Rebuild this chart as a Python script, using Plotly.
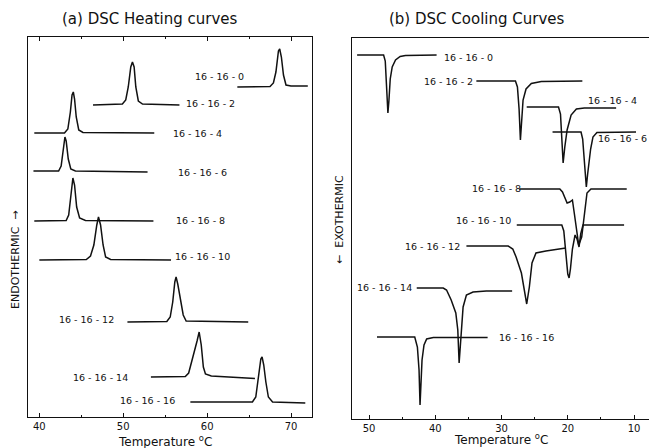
import plotly.graph_objects as go

# ---------------- (a) DSC heating curves: temperature (°C) vs signal (arb. units)
heat_labels = ["16 - 16 - 0", "16 - 16 - 2", "16 - 16 - 4", "16 - 16 - 6", "16 - 16 - 8",
               "16 - 16 - 10", "16 - 16 - 12", "16 - 16 - 14", "16 - 16 - 16"]
heat_T = [
    [63.6, 67.5, 67.9, 68.2, 68.5, 68.65, 68.85, 69.1, 69.4, 70.0, 72.0],
    [46.4, 49.9, 50.3, 50.6, 50.9, 51.1, 51.3, 51.5, 51.8, 52.3, 56.7],
    [39.4, 43.0, 43.4, 43.7, 43.9, 44.05, 44.2, 44.4, 44.7, 45.2, 53.7],
    [39.3, 42.3, 42.6, 42.85, 43.05, 43.2, 43.45, 43.75, 44.3, 52.9],
    [39.4, 43.2, 43.5, 43.8, 44.0, 44.2, 44.45, 44.8, 45.5, 53.6],
    [40.0, 45.6, 46.1, 46.5, 46.85, 47.05, 47.3, 47.6, 47.9, 48.5, 55.7],
    [50.5, 55.2, 55.6, 55.9, 56.15, 56.3, 56.5, 56.75, 56.95, 57.15, 57.5, 64.9],
    [53.3, 57.4, 57.8, 58.2, 58.5, 58.8, 59.05, 59.3, 59.55, 59.8, 60.5, 65.7],
    [58.0, 65.4, 65.8, 66.1, 66.4, 66.55, 66.75, 67.0, 67.3, 67.8, 71.7],
]
heat_q = [
    [330, 330.5, 334, 345, 366, 368, 360, 342, 332, 331, 331],
    [312, 313, 317, 330, 350, 355, 350, 330, 316, 313, 312],
    [284, 284, 288, 305, 322, 325, 318, 300, 287, 284.5, 284],
    [246, 246, 251, 268, 280, 276, 258, 248, 246, 245],
    [196, 196.5, 202, 225, 239, 232, 210, 199, 196.5, 196],
    [157, 157.5, 161, 172, 192, 200, 192, 172, 160, 157.5, 157],
    [95, 95.5, 100, 115, 135, 140, 133, 120, 113, 102, 96, 95],
    [40, 40.5, 44, 56, 66, 76, 85, 72, 50, 43, 41, 38.5],
    [15, 15, 20, 38, 58, 60, 52, 35, 20, 15, 14],
]
heat_label_T = [61.5, 60.4, 58.8, 59.4, 59.2, 59.5, 45.6, 47.3, 52.9]
heat_label_q = [341, 314, 284, 245, 197, 161, 98, 40, 17]

# ---------------- (b) DSC cooling curves
cool_labels = heat_labels
cool_T = [
    [51.8, 47.8, 47.55, 47.35, 47.15, 47.0, 46.8, 46.5, 46.0, 45.3, 44.5, 39.8],
    [33.8, 27.9, 27.6, 27.35, 27.15, 26.95, 26.75, 26.3, 25.5, 24.0, 17.8],
    [26.2, 21.4, 21.1, 20.9, 20.7, 20.45, 20.1, 19.5, 18.7, 17.5, 12.7],
    [22.3, 18.0, 17.75, 17.45, 17.2, 17.0, 16.8, 16.55, 16.2, 15.6, 9.7],
    [27.3, 21.2, 20.8, 20.4, 20.1, 19.7, 19.3, 19.0, 18.6, 18.35, 17.9, 17.5, 17.1, 16.5, 11.1],
    [27.7, 20.9, 20.6, 20.3, 20.0, 19.8, 19.6, 19.3, 18.9, 18.6, 18.3, 18.05, 17.7, 11.5],
    [35.3, 29.0, 28.3, 27.8, 27.0, 26.5, 26.2, 25.8, 25.4, 24.8, 23.3, 20.3],
    [42.8, 38.8, 38.3, 37.6, 36.9, 36.6, 36.4, 36.2, 35.8, 35.3, 34.3, 32.3, 28.4],
    [48.8, 43.1, 42.7, 42.45, 42.3, 42.15, 42.0, 41.7, 41.3, 40.3, 32.1],
]
cool_q = [
    [364, 364, 358, 335, 306, 318, 340, 352, 359, 362.5, 363.5, 364],
    [338, 338, 332, 310, 279, 300, 319, 330, 335.5, 337.5, 338],
    [312, 312, 305, 285, 256, 272, 289, 304, 310, 311, 311],
    [287, 287, 280, 255, 232, 245, 256, 270, 282, 286.5, 287],
    [230, 230, 227, 220, 216, 217, 219, 205, 185, 174, 182, 205, 226, 230, 230],
    [194, 194, 188, 165, 145, 141, 150, 170, 184, 180, 172, 185, 194, 194],
    [173, 173, 170, 162, 146, 126, 115, 132, 156, 166, 168, 171],
    [131, 131, 129, 119, 106, 89, 56, 72, 112, 124, 127, 128, 128],
    [82, 82, 72, 49, 14, 32, 59, 74, 80, 81.5, 81.5],
]
cool_label_T = [35.0, 38.0, 13.3, 11.7, 30.8, 32.7, 40.4, 47.6, 26.2]
cool_label_q = [362, 338, 319, 281, 231, 199, 173, 132, 82]

FONT = "DejaVu Sans"
INK = "#111111"

fig = go.Figure()
annotations = []

for T, q in zip(heat_T, heat_q):
    fig.add_trace(go.Scatter(x=T, y=q, mode="lines", xaxis="x", yaxis="y",
                             line=dict(color=INK, width=1.5), showlegend=False,
                             hoverinfo="skip"))
for lab, lx, ly in zip(heat_labels, heat_label_T, heat_label_q):
    annotations.append(dict(x=lx, y=ly, xref="x", yref="y", text=lab, showarrow=False,
                            xanchor="center", yanchor="middle",
                            font=dict(family=FONT, size=9.5, color=INK)))

for T, q in zip(cool_T, cool_q):
    fig.add_trace(go.Scatter(x=T, y=q, mode="lines", xaxis="x2", yaxis="y2",
                             line=dict(color=INK, width=1.5), showlegend=False,
                             hoverinfo="skip"))
for lab, lx, ly in zip(cool_labels, cool_label_T, cool_label_q):
    annotations.append(dict(x=lx, y=ly, xref="x2", yref="y2", text=lab, showarrow=False,
                            xanchor="center", yanchor="middle",
                            font=dict(family=FONT, size=9.5, color=INK)))

W, H = 649, 448
def px(x):
    return x / W
def py(y):
    return 1 - y / H

def paper_text(x, y, text, size, angle=0):
    return dict(x=px(x), y=py(y), xref="paper", yref="paper", text=text,
                showarrow=False, xanchor="center", yanchor="middle", textangle=angle,
                font=dict(family=FONT, size=size, color=INK))

annotations += [
    paper_text(150, 19, "(a) DSC Heating curves", 15),
    paper_text(477, 19, "(b) DSC Cooling Curves", 15),
    paper_text(165, 441, "Temperature <sup>o</sup>C", 12),
    paper_text(501, 439, "Temperature <sup>o</sup>C", 12),
    paper_text(15, 260, "ENDOTHERMIC  \u2192", 11, -90),
    paper_text(339, 220, "\u2190  EXOTHERMIC", 11, -90),
]

common_x = dict(showgrid=False, zeroline=False, showline=True, linecolor=INK, linewidth=1,
                ticks="inside", ticklen=4, tickcolor=INK, tickwidth=1, dtick=10,
                tickfont=dict(family=FONT, size=10, color=INK),
                minor=dict(dtick=5, ticks="inside", ticklen=2, tickcolor=INK))
common_y = dict(showgrid=False, zeroline=False, showline=True, linecolor=INK, linewidth=1,
                showticklabels=False, ticks="")

fig.update_layout(
    width=W, height=H, margin=dict(l=0, r=0, t=0, b=0),
    paper_bgcolor="white", plot_bgcolor="white",
    xaxis=dict(common_x, domain=[px(28), px(312)], range=[38.65, 72.5], anchor="y",
               mirror="ticks", tick0=40),
    yaxis=dict(common_y, domain=[py(417), py(37)], range=[0, 380], anchor="x", mirror=True),
    xaxis2=dict(common_x, domain=[px(352), 1.0], range=[52.57, 7.74], anchor="y2",
                mirror=True, tick0=10),
    yaxis2=dict(common_y, domain=[py(419), py(38)], range=[0, 381], anchor="x2"),
    annotations=annotations,
)

fig.write_html("out.html", config={"displayModeBar": False},
               post_script="document.body.style.margin='0';")
